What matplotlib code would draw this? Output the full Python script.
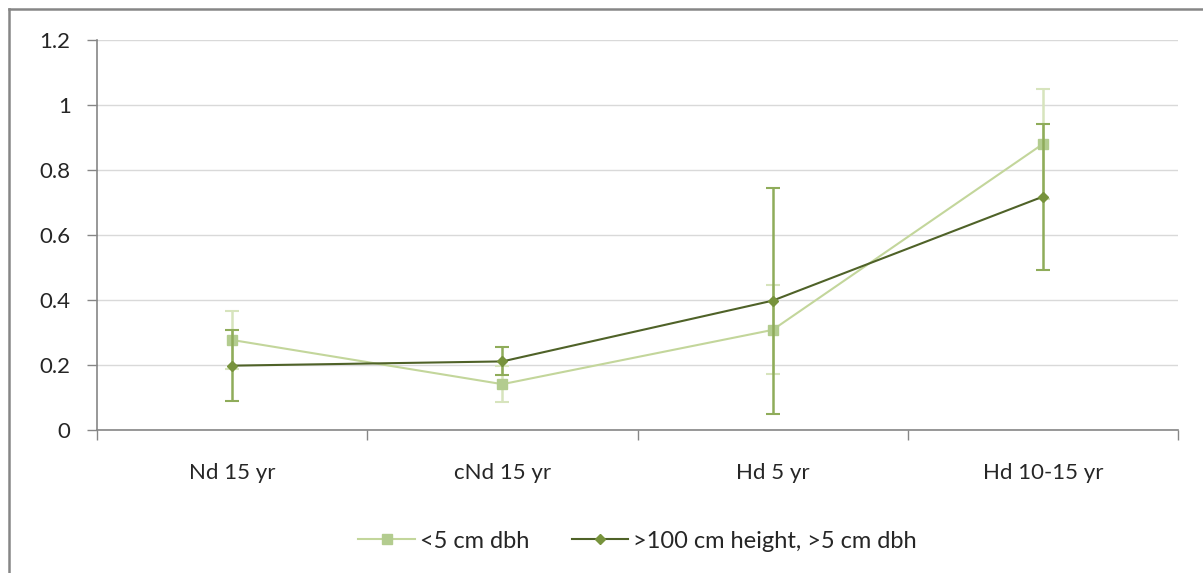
import matplotlib.pyplot as plt
from matplotlib.lines import Line2D

# categories and series values
categories = ['Nd 15 yr', 'cNd 15 yr', 'Hd 5 yr', 'Hd 10-15 yr']
small_vals = [0.277, 0.141, 0.308, 0.880]
small_err = [0.089, 0.055, 0.137, 0.170]
tall_vals = [0.198, 0.211, 0.398, 0.718]
tall_err = [0.110, 0.043, 0.348, 0.225]
labels = ['<5 cm dbh', '>100 cm height, >5 cm dbh']

plt.rcParams['font.family'] = ['Lato', 'DejaVu Sans']

fig = plt.figure(figsize=(12.03, 5.73), dpi=100)
ax = fig.add_axes([97 / 1203, 143 / 573, 1081 / 1203, 390 / 573])

x = list(range(len(categories)))

# light series
ax.errorbar(x, small_vals, yerr=small_err, color='#c3d69b', ecolor='#d7e4bd',
            elinewidth=1.8, capsize=5, capthick=1.5, lw=1.5, marker='s',
            ms=7, mfc='#b3cc8f', mec='#b3cc8f', zorder=3)

# dark series
ax.errorbar(x, tall_vals, yerr=tall_err, color='#4f6228', ecolor='#8fac5a',
            elinewidth=1.8, capsize=5, capthick=1.5, lw=1.5, marker='D',
            ms=5, mfc='#77933c', mec='#77933c', zorder=4)

ax.set_xlim(-0.5, 3.5)
ax.set_ylim(0, 1.2)
ax.set_yticks([0, 0.2, 0.4, 0.6, 0.8, 1.0, 1.2])
ax.set_yticklabels(['0', '0.2', '0.4', '0.6', '0.8', '1', '1.2'])
ax.set_xticks(x)
ax.set_xticklabels(categories)
ax.set_xticks([-0.5, 0.5, 1.5, 2.5, 3.5], minor=True)
ax.tick_params(axis='x', which='major', length=0, pad=24, labelsize=16,
               labelcolor='#262626')
ax.tick_params(axis='x', which='minor', length=7, color='#868686', width=1)
ax.tick_params(axis='y', length=7, color='#868686', width=1, pad=12,
               labelsize=16, labelcolor='#262626')

# gridlines
ax.grid(axis='y', color='#d9d9d9', lw=1)
ax.set_axisbelow(True)
for side in ['top', 'right']:
    ax.spines[side].set_visible(False)
for side in ['left', 'bottom']:
    ax.spines[side].set_color('#868686')
    ax.spines[side].set_linewidth(1.2)

# legend, lines with markers only (no error bars)
handles = [
    Line2D([], [], color='#c3d69b', lw=1.5, marker='s', ms=7,
           mfc='#b3cc8f', mec='#b3cc8f'),
    Line2D([], [], color='#4f6228', lw=1.5, marker='D', ms=5,
           mfc='#77933c', mec='#77933c'),
]
leg = ax.legend(handles, labels, loc='center', bbox_to_anchor=(0.5, -0.285),
                ncol=2, frameon=False, fontsize=17, handlelength=2.4,
                columnspacing=1.8, handletextpad=0.2)
for t in leg.get_texts():
    t.set_color('#262626')

# chart border (left and top only, rest is cropped)
fig.add_artist(Line2D([9 / 1203, 9 / 1203], [0, 1 - 9 / 573],
                      transform=fig.transFigure, color='#868686', lw=1.8))
fig.add_artist(Line2D([9 / 1203, 1], [1 - 9 / 573, 1 - 9 / 573],
                      transform=fig.transFigure, color='#868686', lw=1.8))

fig.savefig('out.png', dpi=100)
